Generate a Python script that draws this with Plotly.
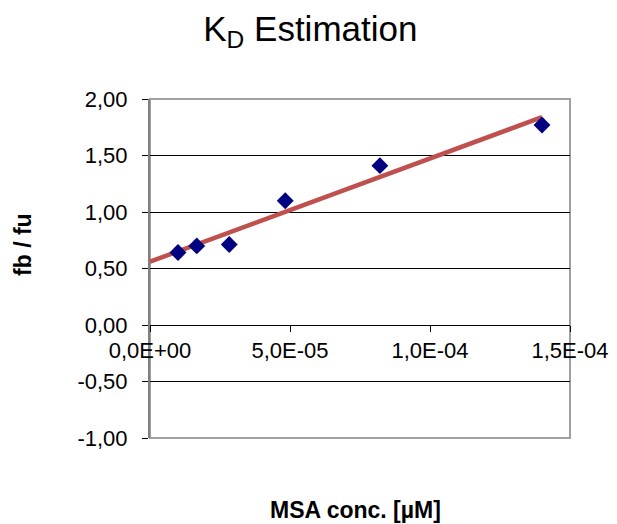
import numpy as np
import plotly.graph_objects as go

conc = [1.0e-5, 1.67e-5, 2.83e-5, 4.83e-5, 8.21e-5, 1.40e-4]
ratio = [0.641, 0.70, 0.712, 1.10, 1.41, 1.77]

x_ticks = [0, 5e-5, 1e-4, 1.5e-4]
x_labels = ["0,0E+00", "5,0E-05", "1,0E-04", "1,5E-04"]
y_ticks = [-1.0, -0.5, 0.0, 0.5, 1.0, 1.5, 2.0]
y_labels = ["-1,00", "-0,50", "0,00", "0,50", "1,00", "1,50", "2,00"]

slope, intercept = np.polyfit(conc, ratio, 1)
fit_x = [0.0, max(conc)]
fit_y = [intercept + slope * v for v in fit_x]

fig = go.Figure()
fig.add_trace(go.Scatter(x=fit_x, y=fit_y, mode="lines",
                         line=dict(color="#C0504D", width=4.5), showlegend=False))
fig.add_trace(go.Scatter(x=conc, y=ratio, mode="markers",
                         marker=dict(symbol="diamond", size=13, color="#000080"),
                         showlegend=False))

font = "Liberation Sans, Arial, sans-serif"
fig.update_layout(
    width=617, height=524,
    margin=dict(l=150, r=47, t=99, b=86),
    paper_bgcolor="white", plot_bgcolor="white",
    font=dict(family=font, color="black", size=22),
    title=dict(text="K<sub>D</sub> Estimation", x=0.503, xanchor="center",
               y=0.945, yanchor="middle", font=dict(size=35, family=font)),
    xaxis=dict(range=[0, 1.5e-4], tickvals=x_ticks, ticktext=x_labels,
               anchor="free", position=1/3, showgrid=False, zeroline=False,
               showline=True, linecolor="black", linewidth=1,
               ticks="outside", ticklen=6, tickcolor="black",
               tickfont=dict(size=22), automargin=False),
    yaxis=dict(range=[-1, 2], tickvals=y_ticks, ticktext=y_labels,
               showgrid=True, gridcolor="black", gridwidth=1, zeroline=False,
               showline=True, linecolor="#808080", linewidth=2, mirror=False,
               ticks="outside", ticklen=6, tickcolor="black",
               ticklabelstandoff=10,
               tickfont=dict(size=22), automargin=False),
    shapes=[dict(type="rect", xref="paper", yref="paper", x0=0, x1=1, y0=0, y1=1,
                 line=dict(color="#A0A0A0", width=2), fillcolor="rgba(0,0,0,0)",
                 layer="below")],
    annotations=[
        dict(text="<b>fb / fu</b>", xref="paper", yref="paper", x=-0.302, y=0.57,
             xanchor="center", yanchor="middle",
             textangle=-90, showarrow=False, font=dict(size=23)),
        dict(text="<b>MSA conc. [µM]</b>", xref="paper", yref="paper", x=0.49, y=-0.212,
             xanchor="center", yanchor="middle",
             showarrow=False, font=dict(size=23)),
    ],
)

fig.write_html("out.html", config={"displayModeBar": False},
               post_script="document.body.style.margin='0';document.body.style.overflow='hidden';")
